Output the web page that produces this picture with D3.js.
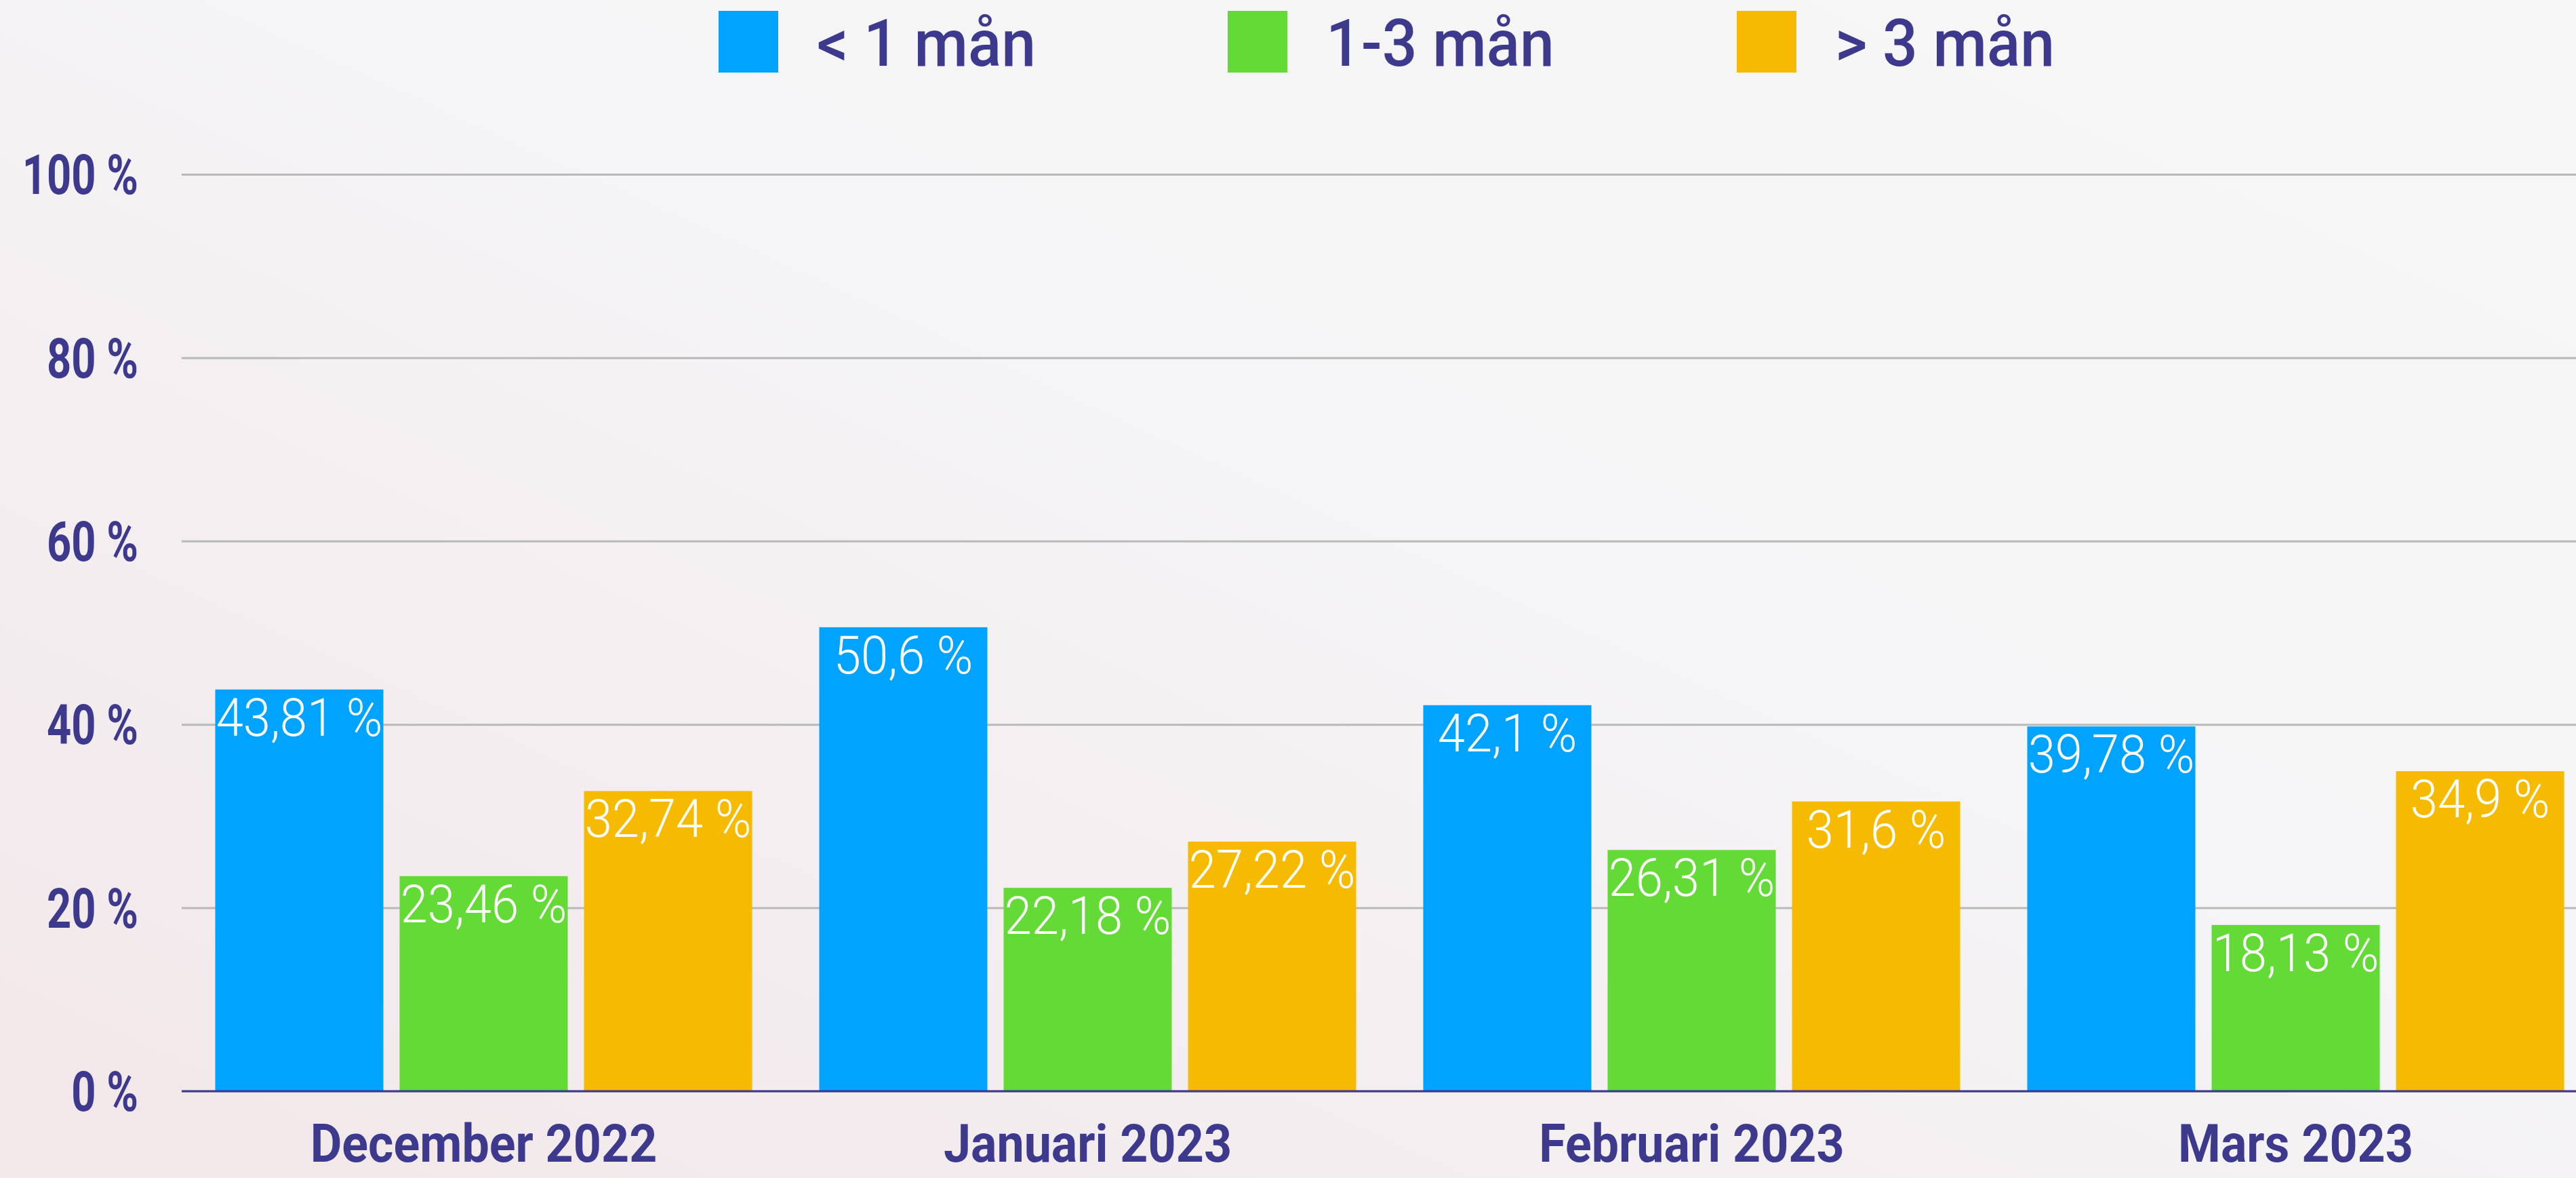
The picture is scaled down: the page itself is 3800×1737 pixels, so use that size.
<!DOCTYPE html>
<html>
<head>
<meta charset="utf-8">
<script src="https://cdn.jsdelivr.net/npm/d3@7"></script>
<style>
  html, body { margin: 0; padding: 0; background: #f5f4f5; }
  svg { display: block; font-family: Roboto, 'Open Sans', sans-serif; }
</style>
</head>
<body>
<div class="js-chart"></div>
<script>
'use strict';

// data
const months = ['December 2022', 'Januari 2023', 'Februari 2023', 'Mars 2023'];
const seriesNames = ['< 1 mån', '1-3 mån', '> 3 mån'];
const lessThanOne = [43.81, 50.6, 42.1, 39.78];
const oneToThree = [23.46, 22.18, 26.31, 18.13];
const moreThanThree = [32.74, 27.22, 31.6, 34.9];
const yTicks = [0, 20, 40, 60, 80, 100];

const colors = ['#00a3ff', '#63da36', '#f6bb00'];
const ink = '#3d3a8e';
const font = "Roboto, 'Open Sans', sans-serif";

const width = 3800;
const height = 1737;
const margin = { top: 257, left: 268, bottom: 1609 };
const groupStep = 891;

const seriesValues = [lessThanOne, oneToThree, moreThanThree];
const data = months.map((m, i) => ({
    month: m,
    values: seriesNames.map((s, j) => ({ series: s, value: seriesValues[j][i], color: colors[j] }))
}));

// squeeze text horizontally (the original uses a condensed font)
const condense = (sel, k) => sel.each(function () {
    const w = this.getComputedTextLength();
    d3.select(this).attr('textLength', w * k).attr('lengthAdjust', 'spacingAndGlyphs');
});

const svg = d3.select('.js-chart')
    .append('svg')
    .attr('width', width)
    .attr('height', height);

// background
const defs = svg.append('defs');
const grad = defs.append('linearGradient')
    .attr('id', 'bg')
    .attr('x1', '100%').attr('y1', '0%')
    .attr('x2', '0%').attr('y2', '100%');
grad.append('stop').attr('offset', '0%').attr('stop-color', '#f7f7f7');
grad.append('stop').attr('offset', '45%').attr('stop-color', '#f5f4f6');
grad.append('stop').attr('offset', '100%').attr('stop-color', '#f2e7e9');
svg.append('rect').attr('width', width).attr('height', height).attr('fill', 'url(#bg)');

// scales
const x0 = d3.scaleBand()
    .domain(months)
    .range([margin.left, margin.left + groupStep * months.length]);

const x1 = d3.scaleBand()
    .domain(seriesNames)
    .range([49.5, groupStep - 49.5])
    .paddingInner(24 / 272);

const y = d3.scaleLinear()
    .domain([0, 100])
    .range([margin.bottom, margin.top]);

// y axis + gridlines
const yAxisGroup = svg.append('g')
    .attr('class', 'y-axis')
    .attr('transform', `translate(${margin.left}, 0)`)
    .call(d3.axisLeft(y)
        .tickValues(yTicks)
        .tickSize(-(width - margin.left))
        .tickPadding(64)
        .tickFormat(d => d + ' %'))
    .attr('font-family', font);

yAxisGroup.select('.domain').remove();
yAxisGroup.selectAll('.tick line')
    .attr('stroke', '#b9b9b9')
    .attr('stroke-width', 3);
yAxisGroup.selectAll('.tick text')
    .attr('fill', ink)
    .attr('font-size', 81)
    .attr('font-weight', 'bold')
    .attr('dy', '0.355em')
    .call(condense, 0.78);

// bars
const groups = svg.selectAll('.group')
    .data(data)
    .enter()
    .append('g')
    .attr('class', 'group')
    .attr('transform', d => `translate(${x0(d.month)}, 0)`);

groups.selectAll('rect')
    .data(d => d.values)
    .enter()
    .append('rect')
    .attr('x', d => x1(d.series))
    .attr('y', d => y(d.value))
    .attr('width', x1.bandwidth())
    .attr('height', d => y(0) - y(d.value))
    .attr('fill', d => d.color);

groups.selectAll('text')
    .data(d => d.values)
    .enter()
    .append('text')
    .attr('x', d => x1(d.series) + x1.bandwidth() / 2)
    .attr('y', d => y(d.value) + 68)
    .attr('text-anchor', 'middle')
    .attr('fill', '#fff')
    .attr('font-size', 77)
    .attr('font-weight', 300)
    .text(d => String(d.value).replace('.', ',') + ' %')
    .call(condense, 0.94);

// baseline
svg.append('line')
    .attr('x1', margin.left)
    .attr('x2', width)
    .attr('y1', y(0))
    .attr('y2', y(0))
    .attr('stroke', ink)
    .attr('stroke-width', 3);

// x axis labels
const xAxisGroup = svg.append('g')
    .attr('class', 'x-axis')
    .attr('transform', `translate(0, ${margin.bottom})`)
    .call(d3.axisBottom(x0).tickSize(0))
    .attr('font-family', font);

xAxisGroup.select('.domain').remove();
xAxisGroup.selectAll('.tick text')
    .attr('y', 104)
    .attr('dy', null)
    .attr('fill', ink)
    .attr('font-size', 78)
    .attr('font-weight', 'bold')
    .call(condense, 0.92);

// legend
const legend = svg.append('g').attr('class', 'legend');
const items = legend.selectAll('g')
    .data(seriesNames)
    .enter()
    .append('g')
    .attr('transform', (d, i) => `translate(${1060 + i * 751}, 16)`);

items.append('rect')
    .attr('width', 88)
    .attr('height', 91)
    .attr('fill', (d, i) => colors[i]);

items.append('text')
    .attr('x', 145)
    .attr('y', 81)
    .attr('fill', ink)
    .attr('font-size', 96)
    .attr('font-weight', 500)
    .text(d => d)
    .call(condense, 0.95);
</script>
</body>
</html>
